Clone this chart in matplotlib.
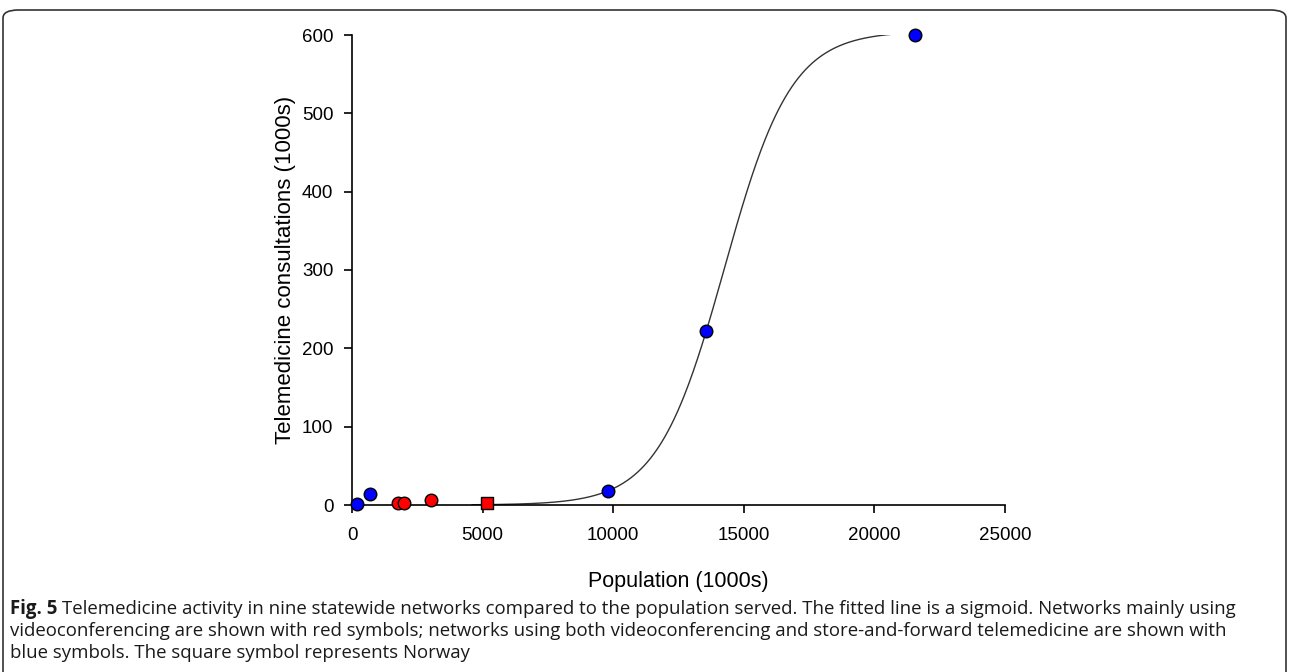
import numpy as np
import matplotlib.pyplot as plt
from matplotlib.patches import FancyBboxPatch

# network data (population in 1000s, consultations in 1000s)
blue_pop = [200, 700, 9800, 13560, 21560]
blue_cons = [1, 14, 18, 222, 600]
red_pop = [1760, 2000, 3020]
red_cons = [2, 2, 6]
norway_pop = [5170]
norway_cons = [2]

# fitted sigmoid parameters
sig_a = 605.0
sig_x0 = 14260.0
sig_b = 1280.0
fit_start = 4600
fit_end = 21560

x_ticks = [0, 5000, 10000, 15000, 20000, 25000]
y_ticks = [0, 100, 200, 300, 400, 500, 600]

plt.rcParams['font.family'] = ['Liberation Sans', 'DejaVu Sans']
cap_font = ['Open Sans', 'DejaVu Sans']

fig = plt.figure(figsize=(12.9, 6.72), dpi=100)
ax = fig.add_axes([352 / 1290, 1 - 505 / 672, (1005 - 352) / 1290, (505 - 35) / 672])

xs = np.linspace(fit_start, fit_end, 400)
ax.plot(xs, sig_a / (1 + np.exp(-(xs - sig_x0) / sig_b)), color='#333333', lw=1.0, zorder=2)

ax.scatter(blue_pop, blue_cons, s=82, c='#0000ff', edgecolors='black', linewidths=1.0, zorder=3, clip_on=False)
ax.scatter(red_pop, red_cons, s=82, c='#ff0000', edgecolors='black', linewidths=1.0, zorder=3, clip_on=False)
ax.scatter(norway_pop, norway_cons, s=78, marker='s', c='#ff0000', edgecolors='black', linewidths=1.0, zorder=3, clip_on=False)

ax.set_xlim(0, 25000)
ax.set_ylim(0, 600)
ax.set_xticks(x_ticks)
ax.set_yticks(y_ticks)
ax.tick_params(labelsize=13.5, length=5.5, width=1.2, direction='out')
ax.tick_params(axis='y', pad=8)
ax.tick_params(axis='x', pad=10)
for s in ['top', 'right']:
    ax.spines[s].set_visible(False)
for s in ['left', 'bottom']:
    ax.spines[s].set_linewidth(1.2)
ax.set_xlabel('Population (1000s)', fontsize=15.5, labelpad=20)
ax.set_ylabel('Telemedicine consultations (1000s)', fontsize=16, labelpad=4)

# caption
cap_lines = [
    'Telemedicine activity in nine statewide networks compared to the population served. The fitted line is a sigmoid. Networks mainly using',
    'videoconferencing are shown with red symbols; networks using both videoconferencing and store-and-forward telemedicine are shown with',
    'blue symbols. The square symbol represents Norway',
]
cap_size = 13.4
t = fig.text(10 / 1290, 1 - 609 / 672, 'Fig. 5', fontsize=cap_size, fontweight='bold', color='#1a1a1a',
             family=cap_font, va='center')
fig.canvas.draw()
bb = t.get_window_extent()
fig.text((bb.x1 + 5) / 1290, 1 - 609 / 672, cap_lines[0], fontsize=cap_size, family=cap_font,
         color='#1a1a1a', va='center')
fig.text(10 / 1290, 1 - 631 / 672, cap_lines[1], fontsize=cap_size, family=cap_font, color='#1a1a1a', va='center')
fig.text(10 / 1290, 1 - 653 / 672, cap_lines[2], fontsize=cap_size, family=cap_font, color='#1a1a1a', va='center')

box = FancyBboxPatch((3 / 1290, -0.05), 1283 / 1290, 1 - 10 / 672 + 0.05,
                     boxstyle='round,pad=0,rounding_size=0.012', transform=fig.transFigure,
                     fill=False, edgecolor='#333333', lw=1.2)
fig.patches.append(box)

fig.savefig('out.png', dpi=100)
